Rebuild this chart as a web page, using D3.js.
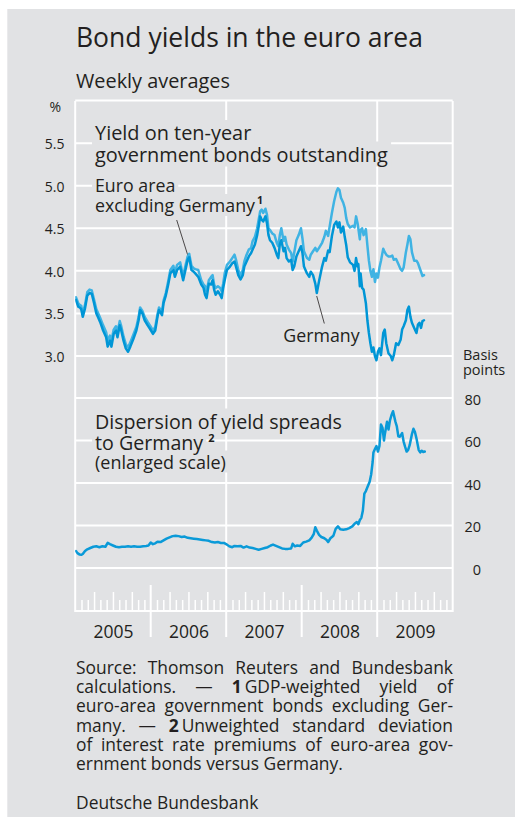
<!DOCTYPE html>
<html><head><meta charset="utf-8">
<script src="https://cdn.jsdelivr.net/npm/d3@7"></script>
<style>
body{margin:0;background:#fff;}
svg{display:block;}
text{font-family:"Open Sans",sans-serif;fill:#231f20;}
</style>
</head><body>
<svg id="c" width="515" height="817"></svg>
<script>
// ---------------- DATA ----------------
// time in decimal years (weekly averages)
const yieldTimes = [2005.01,2005.04,2005.06,2005.08,2005.10,2005.13,2005.16,2005.19,2005.22,2005.25,2005.28,2005.30,2005.33,2005.37,2005.41,2005.43,2005.46,2005.48,2005.51,2005.54,2005.56,2005.59,2005.61,2005.64,2005.67,2005.70,2005.73,2005.77,2005.81,2005.84,2005.86,2005.89,2005.92,2005.96,2005.99,
2006.03,2006.06,2006.09,2006.11,2006.15,2006.17,2006.20,2006.23,2006.26,2006.30,2006.32,2006.35,2006.39,2006.41,2006.43,2006.46,2006.49,2006.51,2006.54,2006.57,2006.59,2006.63,2006.67,2006.70,2006.72,2006.74,2006.77,2006.80,2006.82,2006.84,2006.86,2006.89,2006.92,2006.94,2006.96,2006.98,
2007.01,2007.05,2007.08,2007.11,2007.13,2007.16,2007.19,2007.22,2007.24,2007.27,2007.30,2007.33,2007.35,2007.38,2007.41,2007.43,2007.45,2007.47,2007.49,2007.52,2007.54,2007.56,2007.58,2007.61,2007.64,2007.67,2007.69,2007.71,2007.73,2007.76,2007.78,2007.80,2007.83,2007.86,2007.88,2007.90,2007.93,2007.96,2007.99,
2008.01,2008.03,2008.07,2008.10,2008.12,2008.15,2008.18,2008.20,2008.23,2008.27,2008.30,2008.32,2008.35,2008.37,2008.40,2008.43,2008.46,2008.48,2008.50,2008.52,2008.55,2008.57,2008.59,2008.61,2008.64,2008.68,2008.70,2008.72,2008.74,2008.75,2008.77,2008.78,2008.80,2008.82,2008.85,2008.87,2008.89,2008.91,2008.93,2008.95,2008.97,2008.99,
2009.01,2009.03,2009.05,2009.08,2009.10,2009.12,2009.15,2009.18,2009.20,2009.22,2009.25,2009.28,2009.31,2009.33,2009.35,2009.38,2009.40,2009.42,2009.44,2009.46,2009.49,2009.52,2009.54,2009.56,2009.58,2009.60,2009.62];

const germanyYield = [3.66,3.58,3.57,3.55,3.46,3.56,3.71,3.74,3.73,3.62,3.50,3.46,3.40,3.30,3.22,3.11,3.18,3.11,3.26,3.30,3.22,3.36,3.30,3.18,3.09,3.05,3.11,3.20,3.30,3.42,3.54,3.50,3.42,3.36,3.32,
3.26,3.30,3.46,3.54,3.48,3.62,3.71,3.83,3.97,4.01,3.93,4.01,4.05,3.97,3.89,4.01,4.13,4.16,4.01,3.99,3.97,3.93,3.84,3.80,3.72,3.68,3.85,3.84,3.89,3.78,3.72,3.76,3.72,3.68,3.80,3.89,
4.01,4.05,4.09,4.11,4.05,3.95,3.90,3.95,4.05,4.11,4.17,4.21,4.25,4.31,4.42,4.52,4.64,4.60,4.58,4.64,4.56,4.42,4.36,4.33,4.27,4.19,4.15,4.31,4.36,4.23,4.27,4.15,4.11,4.13,4.01,4.05,4.17,4.23,4.29,
4.21,4.05,3.97,3.93,3.99,3.95,3.85,3.74,3.88,4.05,4.15,4.12,4.24,4.22,4.41,4.54,4.58,4.51,4.57,4.45,4.52,4.40,4.30,4.16,4.10,4.07,4.00,4.15,4.05,4.08,3.82,3.97,3.80,3.78,3.62,3.42,3.27,3.15,3.05,3.10,3.00,2.95,
3.05,3.09,3.01,3.27,3.31,3.15,3.03,3.00,2.95,3.01,3.15,3.13,3.19,3.31,3.35,3.42,3.54,3.58,3.46,3.39,3.33,3.27,3.37,3.39,3.33,3.41,3.42];

const euroExGermanyYield = [3.69,3.62,3.60,3.59,3.50,3.60,3.75,3.78,3.77,3.66,3.55,3.51,3.45,3.36,3.28,3.18,3.24,3.18,3.31,3.35,3.28,3.41,3.35,3.23,3.14,3.10,3.16,3.25,3.34,3.46,3.57,3.53,3.46,3.40,3.36,
3.30,3.34,3.49,3.57,3.52,3.65,3.74,3.87,4.01,4.06,3.98,4.07,4.10,4.02,3.94,4.06,4.17,4.20,4.06,4.03,4.02,4.01,3.89,3.84,3.82,3.76,3.89,3.93,3.95,3.84,3.80,3.82,3.80,3.76,3.85,3.97,
4.07,4.11,4.15,4.19,4.13,4.01,3.95,4.01,4.11,4.19,4.25,4.27,4.35,4.40,4.50,4.60,4.70,4.72,4.68,4.73,4.66,4.50,4.48,4.44,4.42,4.33,4.29,4.42,4.50,4.35,4.40,4.31,4.25,4.21,4.11,4.21,4.36,4.42,4.50,
4.38,4.23,4.15,4.13,4.19,4.23,4.27,4.23,4.27,4.33,4.40,4.47,4.41,4.52,4.68,4.82,4.93,4.97,4.95,4.86,4.80,4.74,4.62,4.55,4.51,4.53,4.51,4.64,4.56,4.50,4.37,4.48,4.50,4.42,4.49,4.30,4.12,4.00,3.93,4.02,3.87,3.97,
3.92,4.04,4.12,4.26,4.22,4.19,4.17,4.17,4.18,4.13,4.14,4.08,4.02,4.00,4.04,4.22,4.31,4.41,4.37,4.22,4.12,4.12,4.09,4.04,3.99,3.94,3.95];

const dispersionTimes = [2005.01,2005.03,2005.06,2005.08,2005.10,2005.13,2005.16,2005.20,2005.24,2005.28,2005.32,2005.36,2005.40,2005.43,2005.46,2005.50,2005.54,2005.58,2005.62,2005.66,2005.70,2005.74,2005.78,2005.82,2005.86,2005.90,2005.94,2005.97,
2006.00,2006.03,2006.06,2006.09,2006.13,2006.17,2006.21,2006.25,2006.29,2006.33,2006.37,2006.41,2006.45,2006.49,2006.53,2006.57,2006.61,2006.65,2006.69,2006.73,2006.77,2006.81,2006.85,2006.89,2006.93,2006.97,
2007.01,2007.04,2007.08,2007.11,2007.15,2007.19,2007.23,2007.27,2007.31,2007.35,2007.39,2007.43,2007.47,2007.51,2007.55,2007.59,2007.62,2007.66,2007.70,2007.74,2007.78,2007.82,2007.86,2007.88,2007.91,2007.94,2007.98,
2008.02,2008.06,2008.10,2008.13,2008.16,2008.18,2008.20,2008.23,2008.26,2008.30,2008.33,2008.35,2008.38,2008.42,2008.45,2008.48,2008.51,2008.55,2008.59,2008.63,2008.67,2008.70,2008.73,2008.75,2008.77,2008.79,2008.81,2008.83,2008.85,2008.87,2008.90,2008.92,2008.94,2008.95,2008.97,2008.99,
2009.01,2009.03,2009.05,2009.07,2009.09,2009.10,2009.13,2009.15,2009.17,2009.19,2009.21,2009.24,2009.26,2009.28,2009.30,2009.33,2009.35,2009.37,2009.39,2009.41,2009.43,2009.46,2009.48,2009.50,2009.52,2009.55,2009.57,2009.59,2009.61,2009.63];

const dispersionBp = [8,7,6.3,6.2,6.6,8,8.8,9.4,10,10.2,9.8,10.2,10,11.8,11.2,10.6,10,9.8,10,10,10.2,10,10.2,10,10,10.2,10.4,10.6,
12,11.2,11.6,12.4,12.2,13,13.8,14.4,15,15.2,15,14.6,14.8,14.2,14,13.8,13.6,13.4,13.2,13,12.8,12.2,12,12.2,11.8,11.8,
11,10.2,9.8,10.4,10.2,10.4,9.6,10.2,9.6,9.4,9,8.6,9,9.4,9.8,10.6,11,10.4,9.8,9.2,9,9,9.2,11.4,10.2,10.6,10.4,
12,12.4,13,14.2,16,19.2,17.6,15.6,14.6,14,13.2,12.2,14,15.2,18.4,19.6,18.2,18,18.2,18.8,19.6,20.8,21.6,20.6,22.6,23.6,27,35,36.2,38,40.6,44,50,54.4,56,57.4,
54.8,57.4,67.5,66,60,62.7,68.8,65.2,69.6,72,73.8,69,66.6,62,61.8,63.5,59.5,57,54.8,55.6,57.8,63,65.5,64,61,55.5,54.4,55.2,54.6,54.8];

const yieldTicks = [3.0,3.5,4.0,4.5,5.0,5.5];
const bpTicks = [0,20,40,60,80];
const years = [2005,2006,2007,2008,2009];

// ---------------- LAYOUT ----------------
const GREY = "#e1e2e4", WHITE = "#ffffff";
const C_DE = "#0096d6", C_EU = "#3fb3e3", C_DISP = "#0a9ad8";
const L = 75.2, R = 452.7, T = 101, B = 611;

const svg = d3.select("#c");
svg.append("rect").attr("x",7.3).attr("y",9).attr("width",515-7.3).attr("height",817-9).attr("fill",GREY);

const x = d3.scaleLinear().domain([2005,2010]).range([L,R]);
const yL = d3.scaleLinear().domain([3,6]).range([356,100.6]);
const yR = d3.scaleLinear().domain([0,80]).range([568,398]);

function fit(sel, target){
  sel.attr("font-size",100);
  const w = sel.node().getComputedTextLength();
  const fs = 100*target/w;
  sel.attr("font-size",fs);
  return fs;
}
function sizeFor(str, target){
  const t = svg.append("text").attr("font-size",100).text(str);
  const fs = 100*target/t.node().getComputedTextLength();
  t.remove();
  return fs;
}

// titles
const title = svg.append("text").attr("x",76).attr("y",47).text("Bond yields in the euro area");
fit(title,347);
const sub = svg.append("text").attr("x",76).attr("y",88).text("Weekly averages");
fit(sub,154);

// grid
const grid = svg.append("g").attr("stroke",WHITE).attr("fill","none");
grid.selectAll(".hl").data(yieldTicks.concat([6])).join("line").attr("class","hl")
  .attr("x1",L).attr("x2",R).attr("y1",d=>yL(d)).attr("y2",d=>yL(d)).attr("stroke-width",2);
grid.selectAll(".hr").data(bpTicks).join("line").attr("class","hr")
  .attr("x1",L).attr("x2",R).attr("y1",d=>yR(d)).attr("y2",d=>yR(d)).attr("stroke-width",2);
grid.append("line").attr("x1",L).attr("x2",L).attr("y1",T).attr("y2",B+1).attr("stroke-width",2);
grid.append("line").attr("x1",R).attr("x2",R).attr("y1",T).attr("y2",B+1).attr("stroke-width",2);
grid.append("line").attr("x1",L).attr("x2",R).attr("y1",B).attr("y2",B).attr("stroke-width",2);
grid.selectAll(".vf").data([2007,2009]).join("line").attr("class","vf")
  .attr("x1",d=>x(d)).attr("x2",d=>x(d)).attr("y1",T).attr("y2",637).attr("stroke-width",2);
grid.selectAll(".vs").data([2006,2008]).join("line").attr("class","vs")
  .attr("x1",d=>x(d)).attr("x2",d=>x(d)).attr("y1",585).attr("y2",637).attr("stroke-width",2);

// month ticks via axis
const months = d3.range(1,60).filter(i=>i%12!==0).map(i=>2005+i/12);
const tickAxis = d3.axisTop(x).tickValues(months).tickFormat("").tickSizeOuter(0);
const tg = svg.append("g").attr("transform",`translate(0,${B})`).call(tickAxis);
tg.select(".domain").remove();
tg.selectAll(".tick line").attr("stroke",WHITE).attr("stroke-width",1.5)
  .attr("y2",d=>{const m=Math.round((d-2005)*12)%12; return m%3===0?-19:-11;});

// year labels
const yearAxis = d3.axisBottom(x).tickValues(years.map(y=>y+0.5)).tickFormat(d=>String(Math.floor(d))).tickSize(0).tickPadding(0);
const yg = svg.append("g").attr("transform",`translate(0,${B})`).call(yearAxis);
yg.select(".domain").remove();
yg.selectAll("text").attr("dy",null).attr("y",27).attr("font-size",17.5).attr("font-family","Open Sans").attr("fill","#231f20");

// left axis
const la = d3.axisLeft(yL).tickValues(yieldTicks).tickFormat(d3.format(".1f")).tickSize(0).tickPadding(0);
const lg = svg.append("g").attr("transform","translate(64.5,1)").call(la);
lg.select(".domain").remove();
lg.selectAll("text").attr("font-size",14).attr("font-family","Open Sans").attr("fill","#231f20");
svg.append("text").attr("x",61).attr("y",112).attr("text-anchor","end").attr("font-size",14).text("%");

// right axis
const ra = d3.axisRight(yR).tickValues(bpTicks).tickSize(0).tickPadding(0);
const rg = svg.append("g").attr("transform","translate(481,1.5)").call(ra);
rg.select(".domain").remove();
rg.selectAll("text").attr("text-anchor","end").attr("font-size",14.5).attr("font-family","Open Sans").attr("fill","#231f20");
svg.append("text").attr("x",463).attr("y",359.5).attr("font-size",14.5).text("Basis");
svg.append("text").attr("x",463).attr("y",374.5).attr("font-size",14.5).text("points");

// pointer lines
svg.append("line").attr("x1",176.7).attr("y1",220).attr("x2",187.7).attr("y2",255).attr("stroke","#231f20").attr("stroke-width",0.8);
svg.append("line").attr("x1",325).attr("y1",326).attr("x2",316.7).attr("y2",296).attr("stroke","#231f20").attr("stroke-width",0.8);

// clip + series lines
svg.append("clipPath").attr("id","clip").append("rect").attr("x",L).attr("y",T).attr("width",R-L).attr("height",B-T);
const lineY = d3.line().x(d=>x(d[0])).y(d=>yL(d[1]));
const lines = svg.append("g").attr("clip-path","url(#clip)").attr("fill","none")
  .attr("stroke-width",2.5).attr("stroke-linejoin","round").attr("stroke-linecap","round");
lines.append("path").attr("d",lineY(d3.zip(yieldTimes,euroExGermanyYield))).attr("stroke",C_EU);
lines.append("path").attr("d",lineY(d3.zip(yieldTimes,germanyYield))).attr("stroke",C_DE);
const lineB = d3.line().x(d=>x(d[0])).y(d=>yR(d[1]));
lines.append("path").attr("d",lineB(d3.zip(dispersionTimes,dispersionBp))).attr("stroke",C_DISP);

// labels with background boxes: boxes layer first, texts layer on top
const boxLayer = svg.append("g");
const textLayer = svg.append("g");
function boxed(txt, xx, yy, fs){
  const t = textLayer.append("text").attr("x",xx).attr("y",yy).attr("font-size",fs).text(txt);
  const bb = t.node().getBBox();
  boxLayer.append("rect").attr("fill",GREY)
    .attr("x",bb.x-3).attr("y",bb.y+1).attr("width",bb.width+6).attr("height",bb.height-2);
  return t;
}

const fsY = sizeFor("government bonds outstanding",293);
boxed("Yield on ten-year",95,140,fsY);
boxed("government bonds outstanding",95,161.5,fsY);

const fsE = sizeFor("excluding Germany",160);
boxed("Euro area",95,192,fsE);
const exg = boxed("excluding Germany",95,212,fsE);
const exEnd = 95 + exg.node().getComputedTextLength();
textLayer.append("text").attr("x",exEnd+2).attr("y",204).attr("font-size",10.5).attr("font-weight","bold").text("1");

boxed("Germany",283.3,341.5,fsE);

const fsD = sizeFor("Dispersion of yield spreads",247);
boxed("Dispersion of yield spreads",95,428.5,fsD);
const tg2 = boxed("to Germany",95,449.5,fsD);
const tgEnd = 95 + tg2.node().getComputedTextLength();
textLayer.append("text").attr("x",tgEnd+5).attr("y",442).attr("font-size",11).attr("font-weight","bold").text("2");
const fsS = sizeFor("(enlarged scale)",131);
boxed("(enlarged scale)",95,468.5,fsS);

// footnotes (justified)
const footLines = [
  ["Source: Thomson Reuters and Bundesbank", true],
  ["calculations. — **1**\u2009GDP-weighted yield of", true],
  ["euro-area government bonds excluding Ger-", true],
  ["many. — **2**\u2009Unweighted standard deviation", true],
  ["of interest rate premiums of euro-area gov-", true],
  ["ernment bonds versus Germany.", false]
];
const fsF = sizeFor("ernment bonds versus Germany.",267);
const FX0 = 76, FX1 = 453;
const foot = svg.append("g").attr("font-size",fsF);
footLines.forEach(([str,just],i)=>{
  const yy = 674 + i*19.2;
  const words = str.split(" ");
  const nodes = words.map(w=>{
    const t = foot.append("text").attr("y",yy);
    w.split("**").forEach((p,j)=>{ if(p.length) t.append("tspan").attr("font-weight",j%2?"bold":null).text(p); });
    return t;
  });
  const ws = nodes.map(n=>n.node().getComputedTextLength());
  const tot = d3.sum(ws);
  const sp = just ? (FX1-FX0-tot)/(words.length-1) : fsF*0.26;
  let cx = FX0;
  nodes.forEach((n,k)=>{ n.attr("x",cx); cx += ws[k]+sp; });
});
svg.append("text").attr("x",76).attr("y",809).attr("font-size",fsF).text("Deutsche Bundesbank");
</script>
</body></html>
